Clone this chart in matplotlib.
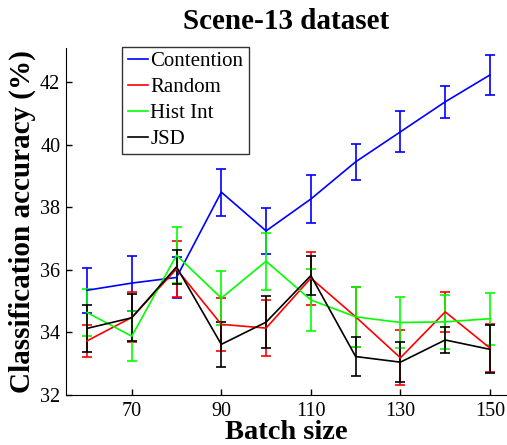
import matplotlib
matplotlib.use("Agg")
import matplotlib.pyplot as plt
import numpy as np

plt.rcParams['font.family'] = ['Liberation Serif', 'DejaVu Serif']
plt.rcParams['mathtext.fontset'] = 'stix'

batch_size = [60, 70, 80, 90, 100, 110, 120, 130, 140, 150]

contention = [35.35, 35.58, 35.76, 38.49, 37.25, 38.27, 39.46, 40.42, 41.38, 42.24]
contention_err = [0.72, 0.88, 0.67, 0.75, 0.73, 0.77, 0.58, 0.66, 0.51, 0.64]

random_ = [33.73, 34.48, 36.03, 34.26, 34.14, 35.74, 34.50, 33.19, 34.66, 33.50]
random_err = [0.51, 0.80, 0.90, 0.85, 0.90, 0.85, 0.95, 0.88, 0.63, 0.78]

hist_int = [34.64, 33.88, 36.47, 35.10, 36.28, 35.04, 34.50, 34.32, 34.34, 34.44]
hist_int_err = [0.76, 0.80, 0.89, 0.87, 0.91, 1.00, 0.95, 0.82, 0.86, 0.83]

jsd = [34.13, 34.47, 36.10, 33.62, 34.33, 35.82, 33.23, 33.05, 33.76, 33.46]
jsd_err = [0.75, 0.75, 0.55, 0.73, 0.83, 0.63, 0.62, 0.64, 0.41, 0.77]

series = [
    ("Contention", contention, contention_err, "#0000ff"),
    ("Random", random_, random_err, "#ff0000"),
    ("Hist Int", hist_int, hist_int_err, "#00ff00"),
    ("JSD", jsd, jsd_err, "#000000"),
]

fig = plt.figure(figsize=(5.07, 4.45), dpi=100)
ax = fig.add_axes([0.130, 0.1124, 0.87, 0.7796])

handles = []
for name, vals, err, col in series:
    cont = ax.errorbar(batch_size, vals, yerr=err, color=col, ecolor=col, lw=1.2,
                       elinewidth=1.2, capsize=3.5, capthick=1.2, label=name)
    handles.append(cont.lines[0])

ax.set_xlim(55.3, 153.8)
ax.set_ylim(32, 43.1)
ax.set_xticks([70, 90, 110, 130, 150])
ax.set_yticks([32, 34, 36, 38, 40, 42])
ax.spines['top'].set_visible(False)
ax.spines['right'].set_visible(False)
ax.tick_params(direction='in', length=4, width=1, labelsize=14.5, pad=4)
ax.tick_params(axis='x', pad=5)

ax.set_title("Scene-13 dataset", fontsize=21, fontweight='bold', pad=14)
ax.set_xlabel("Batch size", fontsize=20.5, fontweight='bold', labelpad=-1)
ax.set_ylabel("Classification accuracy (%)", fontsize=21, fontweight='bold', labelpad=3)

leg = ax.legend(handles, [s[0] for s in series], loc='upper left',
                bbox_to_anchor=(0.128, 1.004), fontsize=15,
                handlelength=1.0, handletextpad=0.1, borderpad=0.25,
                labelspacing=0.3, borderaxespad=0, fancybox=False, frameon=True)
leg.get_frame().set_edgecolor('black')
leg.get_frame().set_linewidth(1.0)

fig.savefig("out.png", dpi=100)
